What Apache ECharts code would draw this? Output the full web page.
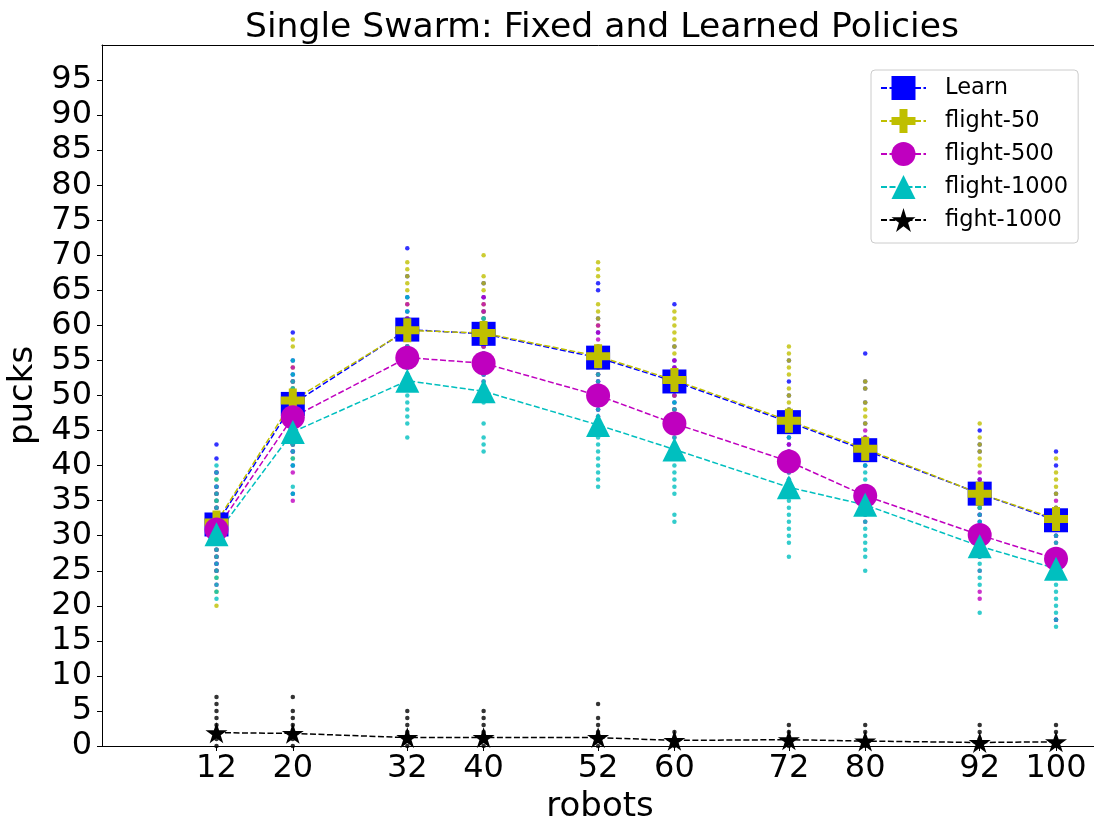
<!DOCTYPE html>
<html>
<head>
<meta charset="utf-8">
<title>Single Swarm: Fixed and Learned Policies</title>
<script src="https://cdn.jsdelivr.net/npm/echarts@6/dist/echarts.min.js"></script>
<style>
  html, body { margin: 0; padding: 0; background: #fff; }
  #chart { width: 1094px; height: 820px; }
</style>
</head>
<body>
<div id="chart"></div>
<script>
// Swarm sizes (x axis) and y tick labels
const robots = [12, 20, 32, 40, 52, 60, 72, 80, 92, 100];
const yTicks = [0, 5, 10, 15, 20, 25, 30, 35, 40, 45, 50, 55, 60, 65, 70, 75, 80, 85, 90, 95];

// Mean pucks collected per policy
const learnMean      = [31.6, 48.8, 59.4, 58.8, 55.4, 52.0, 46.2, 42.2, 36.0, 32.2];
const flight50Mean   = [31.9, 49.3, 59.3, 58.9, 55.6, 52.2, 46.4, 42.4, 36.0, 32.4];
const flight500Mean  = [30.9, 46.9, 55.4, 54.6, 50.0, 46.0, 40.6, 35.7, 30.1, 26.7];
const flight1000Mean = [30.2, 44.8, 52.1, 50.6, 45.8, 42.3, 36.9, 34.4, 28.5, 25.3];
const fight1000Mean  = [1.9, 1.8, 1.2, 1.2, 1.2, 0.8, 0.9, 0.7, 0.5, 0.6];

// Individual run results (pucks) per swarm size, one list per x value
const learnRuns = [
  [43, 41, 39, 37, 36, 35, 34, 33, 32, 31, 30, 29, 28, 27, 26, 25],
  [59, 55, 53, 52, 51, 50, 49, 48, 47, 46, 45, 44, 43, 42, 40, 36],
  [71, 67, 64, 62, 61, 60, 59, 58, 57, 56, 55, 54, 53, 52],
  [66, 64, 62, 61, 60, 59, 58, 57, 56, 55, 54, 53],
  [66, 65, 61, 59, 57, 56, 55, 54, 53, 52, 50, 48],
  [63, 57, 55, 54, 53, 52, 51, 50, 49, 48, 47],
  [55, 52, 50, 48, 47, 46, 45, 44, 43, 42, 41],
  [56, 52, 51, 49, 46, 44, 43, 42, 41, 40],
  [45, 43, 42, 38, 37, 36, 35, 34, 33, 32, 31],
  [42, 40, 36, 34, 33, 32, 31, 30, 18]
];
const flight50Runs = [
  [38, 36, 35, 34, 33, 32, 31, 30, 29, 28, 27, 25, 24, 22, 20],
  [58, 57, 54, 52, 51, 50, 49, 48, 47, 46, 45, 44, 43, 41],
  [69, 68, 67, 66, 65, 63, 61, 60, 59, 58, 57, 56, 55, 54, 53],
  [70, 67, 66, 65, 63, 62, 61, 60, 59, 58, 57, 56, 55, 54],
  [69, 68, 67, 63, 62, 61, 60, 57, 56, 55, 54, 53, 51, 49],
  [62, 61, 60, 59, 58, 57, 56, 53, 52, 51, 50, 48],
  [57, 56, 55, 54, 53, 51, 50, 49, 48, 47, 46, 45],
  [52, 51, 49, 48, 47, 46, 43, 42, 41],
  [46, 44, 43, 42, 41, 40, 37, 36, 35, 34],
  [41, 39, 38, 37, 36, 34, 33, 32]
];
const flight500Runs = [
  [39, 37, 36, 34, 33, 32, 31, 30, 29, 28, 27, 26, 25, 23],
  [54, 52, 50, 49, 48, 47, 46, 45, 44, 43, 42, 39, 35],
  [63, 61, 59, 58, 57, 56, 55, 54, 53, 52, 51],
  [64, 63, 62, 60, 59, 58, 57, 56, 55, 54, 53, 52, 51],
  [60, 59, 58, 56, 55, 53, 52, 51, 50, 49, 48, 47, 46],
  [55, 54, 50, 48, 47, 46, 45, 44, 43, 42],
  [43, 42, 41, 40, 39, 38, 37, 36],
  [45, 44, 41, 37, 36, 35, 34, 33, 32],
  [39, 38, 33, 31, 30, 29, 28, 27, 25, 22, 21],
  [35, 30, 29, 28, 27, 26, 25, 24, 18]
];
const flight1000Runs = [
  [40, 39, 38, 37, 36, 35, 34, 33, 32, 31, 30, 29, 28, 27, 26, 25, 24, 23, 22, 21],
  [55, 53, 52, 51, 50, 49, 48, 47, 46, 45, 44, 43, 42, 41, 40, 37, 36],
  [64, 62, 60, 58, 57, 56, 55, 54, 53, 52, 51, 50, 49, 48, 47, 46, 44],
  [61, 58, 56, 55, 54, 53, 52, 51, 50, 49, 46, 44, 43, 42],
  [53, 52, 50, 49, 48, 47, 46, 45, 44, 43, 42, 41, 40, 39, 38, 37],
  [49, 48, 46, 45, 44, 43, 42, 41, 40, 39, 38, 37, 36, 33, 32],
  [44, 41, 40, 39, 38, 37, 36, 35, 34, 33, 32, 31, 30, 29, 27],
  [40, 39, 38, 36, 35, 34, 33, 32, 31, 30, 29, 28, 27, 25],
  [34, 33, 32, 30, 29, 28, 27, 26, 25, 24, 23, 19],
  [30, 29, 28, 27, 26, 25, 24, 23, 22, 21, 20, 19, 18, 17]
];
const fight1000Runs = [
  [7, 6, 5, 4, 3, 2, 1, 0],
  [7, 5, 4, 3, 2, 1, 0],
  [5, 4, 3, 2, 1, 0],
  [5, 4, 3, 2, 1, 0],
  [6, 4, 3, 2, 1, 0],
  [2, 1, 0],
  [3, 2, 1, 0],
  [3, 2, 1, 0],
  [3, 2, 1, 0],
  [3, 2, 1, 0]
];

const FONT = 'DejaVu Sans';
const PLUS = 'path://M1,0H2V1H3V2H2V3H1V2H0V1H1Z';
const STAR = 'path://M0,-1L0.2245,-0.309L0.951,-0.309L0.3633,0.118L0.588,0.809L0,0.382L-0.588,0.809L-0.3633,0.118L-0.951,-0.309L-0.2245,-0.309Z';

const policies = [
  { name: 'Learn',       color: '#0000ff', symbol: 'rect',     size: 24, mean: learnMean,      runs: learnRuns },
  { name: 'flight-50',   color: '#bfbf00', symbol: PLUS,       size: 24, mean: flight50Mean,   runs: flight50Runs },
  { name: 'flight-500',  color: '#bf00bf', symbol: 'circle',   size: 24, mean: flight500Mean,  runs: flight500Runs },
  { name: 'flight-1000', color: '#00bfbf', symbol: 'triangle', size: 24, mean: flight1000Mean, runs: flight1000Runs },
  { name: 'fight-1000',  color: '#000000', symbol: STAR,       size: 22, mean: fight1000Mean,  runs: fight1000Runs }
];

const series = [];
// run dots first, so every mean line and marker sits above them
policies.forEach(function (p) {
  const pts = [];
  p.runs.forEach(function (list, i) {
    list.forEach(function (v) { pts.push([robots[i], v]); });
  });
  series.push({
    name: p.name + ' runs',
    type: 'scatter',
    data: pts,
    symbol: 'circle',
    symbolSize: 4.5,
    itemStyle: { color: p.color },
    silent: true,
    z: 2
  });
});
policies.forEach(function (p) {
  series.push({
    name: p.name,
    type: 'line',
    data: p.mean.map(function (v, i) { return [robots[i], v]; }),
    symbol: p.symbol,
    symbolSize: p.size,
    symbolKeepAspect: true,
    showAllSymbol: true,
    itemStyle: { color: p.color, opacity: 1 },
    lineStyle: { color: p.color, width: 1.5, type: [6, 2.5] },
    emphasis: { disabled: true },
    animation: false,
    z: 3
  });
});

const chart = echarts.init(document.getElementById('chart'), null, { renderer: 'canvas' });
chart.setOption({
  animation: false,
  backgroundColor: '#ffffff',
  title: {
    text: 'Single Swarm: Fixed and Learned Policies',
    left: 597,
    top: 6,
    textAlign: 'center',
    textStyle: { fontFamily: FONT, fontSize: 34.6, fontWeight: 'normal', color: '#000' }
  },
  legend: {
    data: policies.map(function (p) { return p.name; }),
    orient: 'vertical',
    left: 871,
    top: 70,
    padding: [3, 10, 8, 9],
    itemWidth: 45,
    itemHeight: 30,
    itemGap: 3,
    backgroundColor: 'rgba(255,255,255,0.8)',
    borderColor: '#cccccc',
    borderWidth: 1,
    borderRadius: 4,
    textStyle: { fontFamily: FONT, fontSize: 22.5, lineHeight: 30, color: '#000', padding: [0, 0, 0, 14] }
  },
  grid: { left: 102, top: 45, width: 996, height: 701, containLabel: false, outerBoundsMode: 'none' },
  xAxis: [{
    type: 'value',
    min: 0,
    max: 104.4,
    name: 'robots',
    nameLocation: 'middle',
    nameGap: 37,
    nameTextStyle: { fontFamily: FONT, fontSize: 34, color: '#000' },
    axisLine: { show: true, lineStyle: { color: '#000', width: 1 } },
    axisTick: { show: true, length: 5, customValues: robots, lineStyle: { color: '#000' } },
    axisLabel: { customValues: robots, margin: 7, fontFamily: FONT, fontSize: 32, color: '#000' },
    splitLine: { show: false }
  }, {
    type: 'value',
    position: 'top',
    min: 0,
    max: 104.4,
    axisLine: { show: true, onZero: false, lineStyle: { color: '#000', width: 1 } },
    axisTick: { show: false },
    axisLabel: { show: false },
    splitLine: { show: false }
  }],
  yAxis: {
    type: 'value',
    min: 0,
    max: 100,
    interval: 5,
    name: 'pucks',
    nameLocation: 'middle',
    nameGap: 59,
    nameTextStyle: { fontFamily: FONT, fontSize: 34, color: '#000' },
    axisLine: { show: true, lineStyle: { color: '#000', width: 1 } },
    axisTick: { show: true, length: 5, customValues: yTicks, lineStyle: { color: '#000' } },
    axisLabel: { customValues: yTicks, margin: 10, fontFamily: FONT, fontSize: 32, color: '#000' },
    splitLine: { show: false }
  },
  series: series
});
</script>
</body>
</html>
